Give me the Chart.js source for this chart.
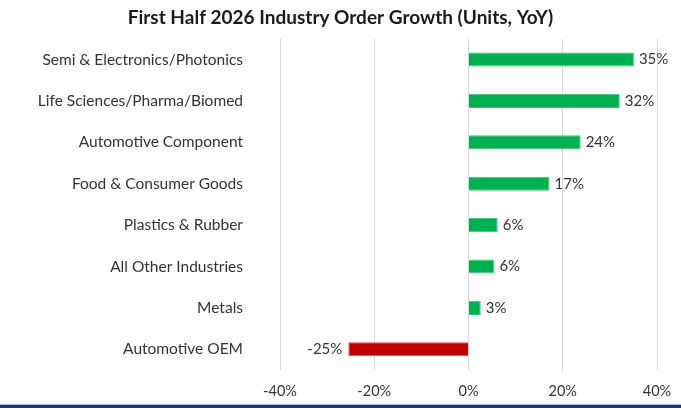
<!DOCTYPE html>
<html>
<head>
<meta charset="utf-8">
<script src="https://cdn.jsdelivr.net/npm/chart.js@4.4.1/dist/chart.umd.min.js"></script>
<style>
    html, body { margin: 0; padding: 0; background: #fff; }
    #wrap { width: 681px; height: 408px; position: relative; overflow: hidden; }
    #chart { display: block; }
    #edge { position: absolute; left: 0; top: 404px; width: 681px; height: 4px;
            border-top: 1px solid #9dc3e6; background: #1f3864; box-sizing: border-box; }
</style>
</head>
<body>
<div id="wrap">
    <canvas id="chart" width="681" height="404"></canvas>
    <div id="edge"></div>
</div>
<script>
const industries = [
    'Semi & Electronics/Photonics',
    'Life Sciences/Pharma/Biomed',
    'Automotive Component',
    'Food & Consumer Goods',
    'Plastics & Rubber',
    'All Other Industries',
    'Metals',
    'Automotive OEM'
];
const growth = [35.1, 32.1, 23.8, 17.2, 6.2, 5.5, 2.6, -25.5];
const tickValues = [-40, -20, 0, 20, 40];

const fontName = 'Lato, "Open Sans", sans-serif';
const textColor = '#333333';

// draws the value next to the end of each bar
const barLabels = {
    id: 'barLabels',
    afterDatasetsDraw(chart) {
        const ctx = chart.ctx;
        const meta = chart.getDatasetMeta(0);
        ctx.save();
        ctx.font = '15px ' + fontName;
        ctx.fillStyle = textColor;
        ctx.textBaseline = 'middle';
        meta.data.forEach((bar, i) => {
            const v = growth[i];
            const txt = Math.round(v) + '%';
            if (v >= 0) {
                ctx.textAlign = 'left';
                ctx.fillText(txt, bar.x + 5, bar.y);
            } else {
                ctx.textAlign = 'right';
                ctx.fillText(txt, bar.x - 6, bar.y);
            }
        });
        ctx.restore();
    }
};

const ctx = document.getElementById('chart').getContext('2d');
new Chart(ctx, {
    type: 'bar',
    data: {
        labels: industries,
        datasets: [{
            data: growth,
            backgroundColor: growth.map(v => v < 0 ? '#c00000' : '#00b050'),
            borderColor: growth.map(v => v < 0 ? '#d45050' : '#3cc47a'),
            borderWidth: 1,
            barPercentage: 0.34,
            categoryPercentage: 1
        }]
    },
    options: {
        indexAxis: 'y',
        responsive: false,
        animation: false,
        layout: { padding: 0 },
        plugins: {
            legend: { display: false },
            tooltip: { enabled: false },
            title: {
                display: true,
                text: 'First Half 2026 Industry Order Growth (Units, YoY)',
                color: '#1a1a1a',
                font: { family: fontName, size: 19, weight: 'bold' },
                padding: { top: 6, bottom: 10 }
            }
        },
        scales: {
            x: {
                min: -40,
                max: 40,
                afterBuildTicks(axis) {
                    axis.ticks = tickValues.map(v => ({ value: v }));
                },
                afterFit(axis) {
                    axis.height = 34;
                    axis.paddingLeft = 0;
                    axis.paddingRight = 24;
                },
                grid: { color: '#d9d9d9', drawTicks: false },
                border: { display: false },
                ticks: {
                    color: textColor,
                    padding: 13,
                    font: { family: fontName, size: 14.5 },
                    callback: v => v + '%'
                }
            },
            y: {
                afterFit(axis) {
                    axis.width = 280;
                    axis.paddingTop = 0;
                    axis.paddingBottom = 0;
                },
                grid: { display: false },
                border: { display: false },
                ticks: {
                    color: textColor,
                    padding: 29,
                    font: { family: fontName, size: 15.5 }
                }
            }
        }
    },
    plugins: [barLabels]
});
</script>
</body>
</html>
